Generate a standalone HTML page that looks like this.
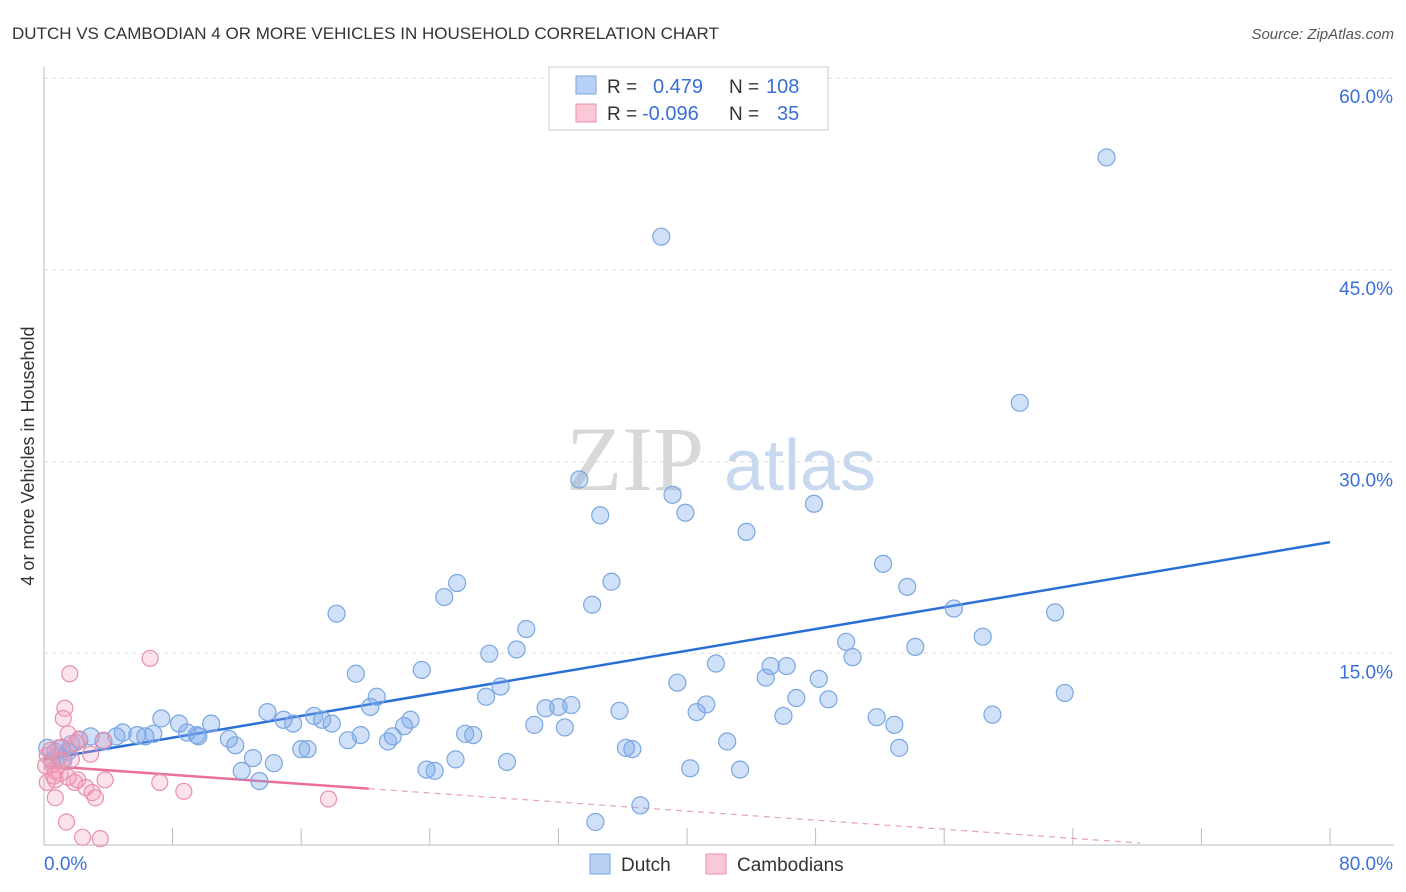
<!DOCTYPE html>
<html><head><meta charset="utf-8"><style>
body{margin:0;background:#fff;font-family:"Liberation Sans",sans-serif;}
svg{display:block}
</style></head><body>
<svg id="chart" width="1406" height="892">
<text x="12" y="39" font-size="17" fill="#333">DUTCH VS CAMBODIAN 4 OR MORE VEHICLES IN HOUSEHOLD CORRELATION CHART</text>
<text x="1394" y="39" font-size="15" fill="#555" font-style="italic" text-anchor="end">Source: ZipAtlas.com</text>
<text x="34" y="456" font-size="18" fill="#333" text-anchor="middle" transform="rotate(-90 34 456)">4 or more Vehicles in Household</text>
<g>
<text x="635" y="490" font-size="92" fill="#d8d8d8" font-family="Liberation Serif,serif" text-anchor="middle">ZIP</text>
<text x="800" y="490" font-size="72" fill="#c8d8ee" text-anchor="middle">atlas</text>
</g>
<g id="grid"></g><g id="axes"></g><g id="lines"></g><g id="pts"></g>
<g>
<rect x="549" y="67" width="279" height="63" fill="#fff" stroke="#ccc"/>
<rect x="576" y="76" width="20" height="18" fill="#b8d0f4" stroke="#7aa7e0"/>
<rect x="576" y="104" width="20" height="18" fill="#fac8d6" stroke="#e890a8"/>
<text x="607" y="93" font-size="19" fill="#333">R =</text><text x="653" y="93" font-size="20" fill="#3a6fd8">0.479</text>
<text x="729" y="93" font-size="19" fill="#333">N =</text><text x="766" y="93" font-size="20" fill="#3a6fd8">108</text>
<text x="607" y="120" font-size="19" fill="#333">R =</text><text x="642" y="120" font-size="20" fill="#3a6fd8">-0.096</text>
<text x="729" y="120" font-size="19" fill="#333">N =</text><text x="777" y="120" font-size="20" fill="#3a6fd8">35</text>
</g>
<g>
<rect x="590" y="854" width="20" height="20" fill="#b8d0f4" stroke="#7aa7e0"/>
<text x="621" y="871" font-size="19" fill="#333">Dutch</text>
<rect x="706" y="854" width="20" height="20" fill="#fac8d6" stroke="#e890a8"/>
<text x="737" y="871" font-size="19" fill="#333">Cambodians</text>
</g>
</svg>
<script>
const yTicks=[15,30,45,60];
const xTickLabels=["0.0%","80.0%"];
const dutchX=[66.1,38.4,60.7,33.3,39.1,34.6,39.9,47.9,43.7,52.2,53.7,35.3,25.7,24.9,34.1,18.2,56.6,62.9,58.4,30.0,49.9,50.3,54.2,27.7,29.4,19.4,23.5,45.2,46.2,41.8,44.9,39.4,48.2,28.4,20.7,27.5,63.5,46.8,48.8,20.3,31.2,32.0,32.8,35.8,41.2,40.6,59.0,51.8,46.0,13.9,16.8,7.3,17.3,17.9,22.8,22.4,14.9,15.5,10.4,8.4,52.9,30.5,32.4,3.7,4.9,5.8,6.8,8.9,9.6,11.5,19.7,21.7,21.4,18.9,26.2,26.7,2.9,2.2,4.5,6.3,9.5,11.9,16.0,16.4,36.2,36.6,42.5,53.2,13.0,14.3,12.3,13.4,23.8,24.3,25.6,28.8,40.2,43.3,37.1,34.3,0.2,0.7,1.1,1.5,1.7,0.5,0.9,1.2];
const dutchY=[53.8,47.6,34.6,28.6,27.4,25.8,26.0,26.7,24.5,22.0,20.2,20.6,20.5,19.4,18.8,18.1,18.5,18.2,16.3,16.9,15.9,14.7,15.5,14.97,15.3,13.4,13.7,14.0,14.0,14.2,13.1,12.7,13.0,12.4,11.6,11.6,11.9,11.5,11.4,10.8,10.7,10.8,10.95,10.5,11.0,10.4,10.2,10.0,10.1,10.4,10.1,9.9,9.8,9.5,9.8,9.3,9.8,9.5,9.5,9.5,9.4,9.4,9.2,8.1,8.8,8.6,8.7,8.8,8.5,8.3,8.6,8.5,8.1,8.2,8.7,8.6,8.5,8.2,8.5,8.5,8.6,7.8,7.5,7.5,7.6,7.5,8.1,7.6,6.8,6.4,5.8,5.0,5.9,5.8,6.7,6.5,6.0,5.9,3.1,1.8,7.6,7.3,7.6,7.3,7.9,6.6,6.9,6.6];
const camX=[6.6,1.6,1.3,1.2,1.5,2.2,2.0,2.9,3.7,0.2,0.5,0.7,1.0,0.2,0.7,1.9,2.1,2.6,3.0,3.2,3.8,7.2,8.7,17.7,0.7,1.4,2.4,3.5,0.9,0.4,1.1,1.7,0.6,1.5,0.1];
const camY=[14.6,13.4,10.7,9.9,8.7,8.3,8.0,7.1,8.2,7.0,6.3,5.8,5.6,4.9,5.1,4.9,5.1,4.5,4.1,3.7,5.1,4.9,4.2,3.6,3.7,1.8,0.6,0.5,7.6,7.4,6.6,6.7,5.4,5.3,6.2];
const dutchTrend=[6.7,23.7]; // y at x=0 and x=80
const camTrend=[6.2,0.15]; // y at x=0 and x=68.2 end
const camSolidEnd=20.2, camDashEnd=68.2;
const NS="http://www.w3.org/2000/svg";
const X=v=>44+v*16.075, Y=v=>845-v*12.78;
function mk(t,a,p){const e=document.createElementNS(NS,t);for(const k in a)e.setAttribute(k,a[k]);p.appendChild(e);return e;}
const grid=document.getElementById('grid'),axes=document.getElementById('axes'),lines=document.getElementById('lines'),pts=document.getElementById('pts');
yTicks.forEach(t=>{
 const l=mk('line',{x1:44,x2:1394,y1:Y(t),y2:Y(t),stroke:'#ddd','stroke-dasharray':'4,4'},grid);
 
 
 const tx=mk('text',{x:1393,y:Y(t)+25,'font-size':19,fill:'#3a6fd8','text-anchor':'end'},axes);
 tx.textContent=t.toFixed(1)+'%';
 
 
});
const xa=mk('line',{x1:44,x2:1394,y1:845,y2:845,stroke:'#bbb'},axes);


const ya=mk('line',{x1:44,x2:44,y1:67,y2:845,stroke:'#bbb'},axes);


for(let i=0;i<=10;i++){const tk=mk('line',{x1:X(i*8),x2:X(i*8),y1:828,y2:845,stroke:'#bbb'},axes);
 
 }
const xl0=mk('text',{x:44,y:870,'font-size':19,fill:'#3a6fd8'},axes);xl0.textContent=xTickLabels[0];


const xl1=mk('text',{x:1393,y:870,'font-size':19,fill:'#3a6fd8','text-anchor':'end'},axes);xl1.textContent=xTickLabels[1];


dutchX.forEach((x,i)=>{const c=mk('circle',{cx:X(x),cy:Y(dutchY[i]),r:8.5,fill:'rgba(120,165,235,0.35)',stroke:'#7aa7e0','stroke-width':1.2},pts);
 
 });
camX.forEach((x,i)=>{const c=mk('circle',{cx:X(x),cy:Y(camY[i]),r:8,fill:'rgba(245,160,190,0.3)',stroke:'#e890a8','stroke-width':1.2},pts);
 
 });
const dl=mk('line',{x1:X(0),y1:Y(dutchTrend[0]),x2:X(80),y2:Y(dutchTrend[1]),stroke:'#2a6fd6','stroke-width':2.5},lines);


const cy=x=>camTrend[0]+(camTrend[1]-camTrend[0])*x/camDashEnd;
const cl=mk('line',{x1:X(0),y1:Y(cy(0)),x2:X(camSolidEnd),y2:Y(cy(camSolidEnd)),stroke:'#e8709a','stroke-width':2.5},lines);


const cd=mk('line',{x1:X(camSolidEnd),y1:Y(cy(camSolidEnd)),x2:X(camDashEnd),y2:Y(cy(camDashEnd)),stroke:'#e8a0b8','stroke-width':1.2,'stroke-dasharray':'6,5'},lines);


</script>
</body></html>
